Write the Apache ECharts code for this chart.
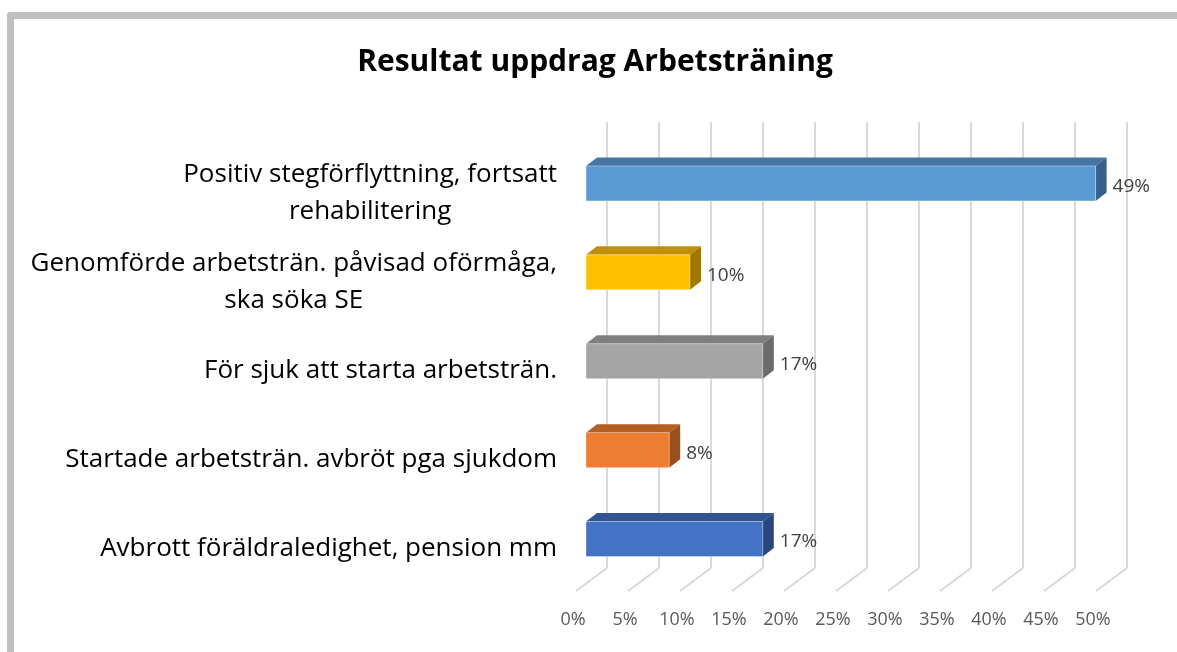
<!DOCTYPE html>
<html>
<head>
<meta charset="utf-8">
<script src="https://cdn.jsdelivr.net/npm/echarts@6/dist/echarts.min.js"></script>
<style>
  html, body { margin: 0; padding: 0; background: #fff; overflow: hidden; }
  #main { width: 1177px; height: 652px; }
  /* grå ram runt diagrammet, som i Excel-bilden */
  .frame {
    position: absolute; left: 7px; top: 12px; width: 1250px; height: 700px;
    border: 7px solid #bfbfbf; border-radius: 3px; pointer-events: none;
  }
</style>
</head>
<body>
<div id="main"></div>
<div class="frame"></div>
<script>
// kategorier uppifrån och ned
const categories = [
  'Positiv stegförflyttning, fortsatt\nrehabilitering',
  'Genomförde arbetsträn. påvisad oförmåga,\nska söka SE',
  'För sjuk att starta arbetsträn.',
  'Startade arbetsträn. avbröt pga sjukdom',
  'Avbrott föräldraledighet, pension mm'
]
// andel i procent
const values = [49, 10, 17, 8, 17]
// skalsteg på x-axeln
const ticks = [0, 5, 10, 15, 20, 25, 30, 35, 40, 45, 50]

// färger: framsida, ovansida, sida
const frontColors = ['#5b9bd5', '#ffc000', '#a5a5a5', '#ed7d31', '#4472c4']
const topColors = ['#4676a3', '#c09000', '#7f7f7f', '#b65f24', '#2f5597']
const sideColors = ['#386189', '#a17900', '#6b6b6b', '#9a4f1c', '#28477f']

const font = '"Open Sans", "Noto Sans", sans-serif'
const chart = echarts.init(document.getElementById('main'))

// 3D-stapel: framsida + ovansida + höger sida + etikett
function renderBar(params, api) {
  const i = api.value(1)
  const v = api.value(0)
  const a = api.coord([0, i])
  const b = api.coord([v, i])
  const dx = -21, dy = -9.5, h = 35, ddx = 11, ddy = 8.5
  const x0 = a[0] + dx, x1 = b[0] + dx
  const yt = a[1] + dy - h / 2, yb = a[1] + dy + h / 2
  return {
    type: 'group',
    children: [
      { type: 'polygon', shape: { points: [[x0, yt], [x1, yt], [x1 + ddx, yt - ddy], [x0 + ddx, yt - ddy]] },
        style: { fill: topColors[i] } },
      { type: 'polygon', shape: { points: [[x1, yt], [x1 + ddx, yt - ddy], [x1 + ddx, yb - ddy], [x1, yb]] },
        style: { fill: sideColors[i] } },
      { type: 'rect', shape: { x: x0, y: yt, width: x1 - x0, height: h },
        style: { fill: frontColors[i], stroke: 'rgba(255,255,255,0.35)', lineWidth: 1 } },
      { type: 'text', x: x1 + 17, y: a[1] + dy + 3,
        style: { text: v + '%', fill: '#404040', font: '19px ' + font, verticalAlign: 'middle', align: 'left' } }
    ]
  }
}

// golvlinjer från bakväggen snett ned mot framkanten
function renderFloor(params, api) {
  const p = api.coord([api.value(0), 0])
  return {
    type: 'line',
    shape: { x1: p[0], y1: p[1], x2: p[0] - 31, y2: p[1] + 23 },
    style: { stroke: '#d9d9d9', lineWidth: 2 }
  }
}

chart.setOption({
  backgroundColor: '#fff',
  title: {
    text: 'Resultat uppdrag Arbetsträning',
    left: 590, top: 42, textAlign: 'center',
    textStyle: { fontFamily: font, fontWeight: 'bold', fontSize: 30, color: '#000' }
  },
  grid: [
    // bakvägg
    { left: 607, top: 122, width: 520, height: 446 },
    // staplar och kategorier
    { left: 607, top: 148.5, width: 520, height: 444.5 },
    // värdeetiketter under golvet
    { left: 573, top: 122, width: 520, height: 469 }
  ],
  xAxis: [
    { gridIndex: 0, type: 'value', min: 0, max: 50, interval: 5,
      axisLine: { show: false }, axisTick: { show: false }, axisLabel: { show: false },
      splitLine: { show: true, lineStyle: { color: '#d9d9d9', width: 2 } } },
    { gridIndex: 1, type: 'value', min: 0, max: 50, interval: 5, show: false },
    { gridIndex: 2, type: 'value', min: 0, max: 50, interval: 5,
      axisLine: { show: false }, axisTick: { show: false }, splitLine: { show: false },
      axisLabel: { margin: 20, formatter: '{value}%', color: '#595959', fontSize: 18, fontFamily: font } }
  ],
  yAxis: [
    { gridIndex: 0, type: 'value', min: 0, max: 1, show: false },
    { gridIndex: 1, type: 'category', inverse: true, data: categories,
      axisLine: { show: false }, axisTick: { show: false }, splitLine: { show: false },
      axisLabel: {
        margin: 50, interval: 0,
        formatter: (s) => s.split('\n').map(t => '{c|' + t + '}').join('\n'),
        rich: { c: { align: 'center', fontSize: 26, lineHeight: 37, color: '#000', fontFamily: font } }
      } },
    { gridIndex: 2, type: 'value', min: 0, max: 1, show: false }
  ],
  series: [
    { type: 'custom', xAxisIndex: 0, yAxisIndex: 0, renderItem: renderFloor,
      data: ticks.map(t => [t]), encode: { x: 0 }, silent: true },
    { type: 'custom', xAxisIndex: 1, yAxisIndex: 1, renderItem: renderBar,
      data: values.map((v, i) => [v, i]), encode: { x: 0, y: 1 }, z: 5 }
  ]
})
</script>
</body>
</html>
